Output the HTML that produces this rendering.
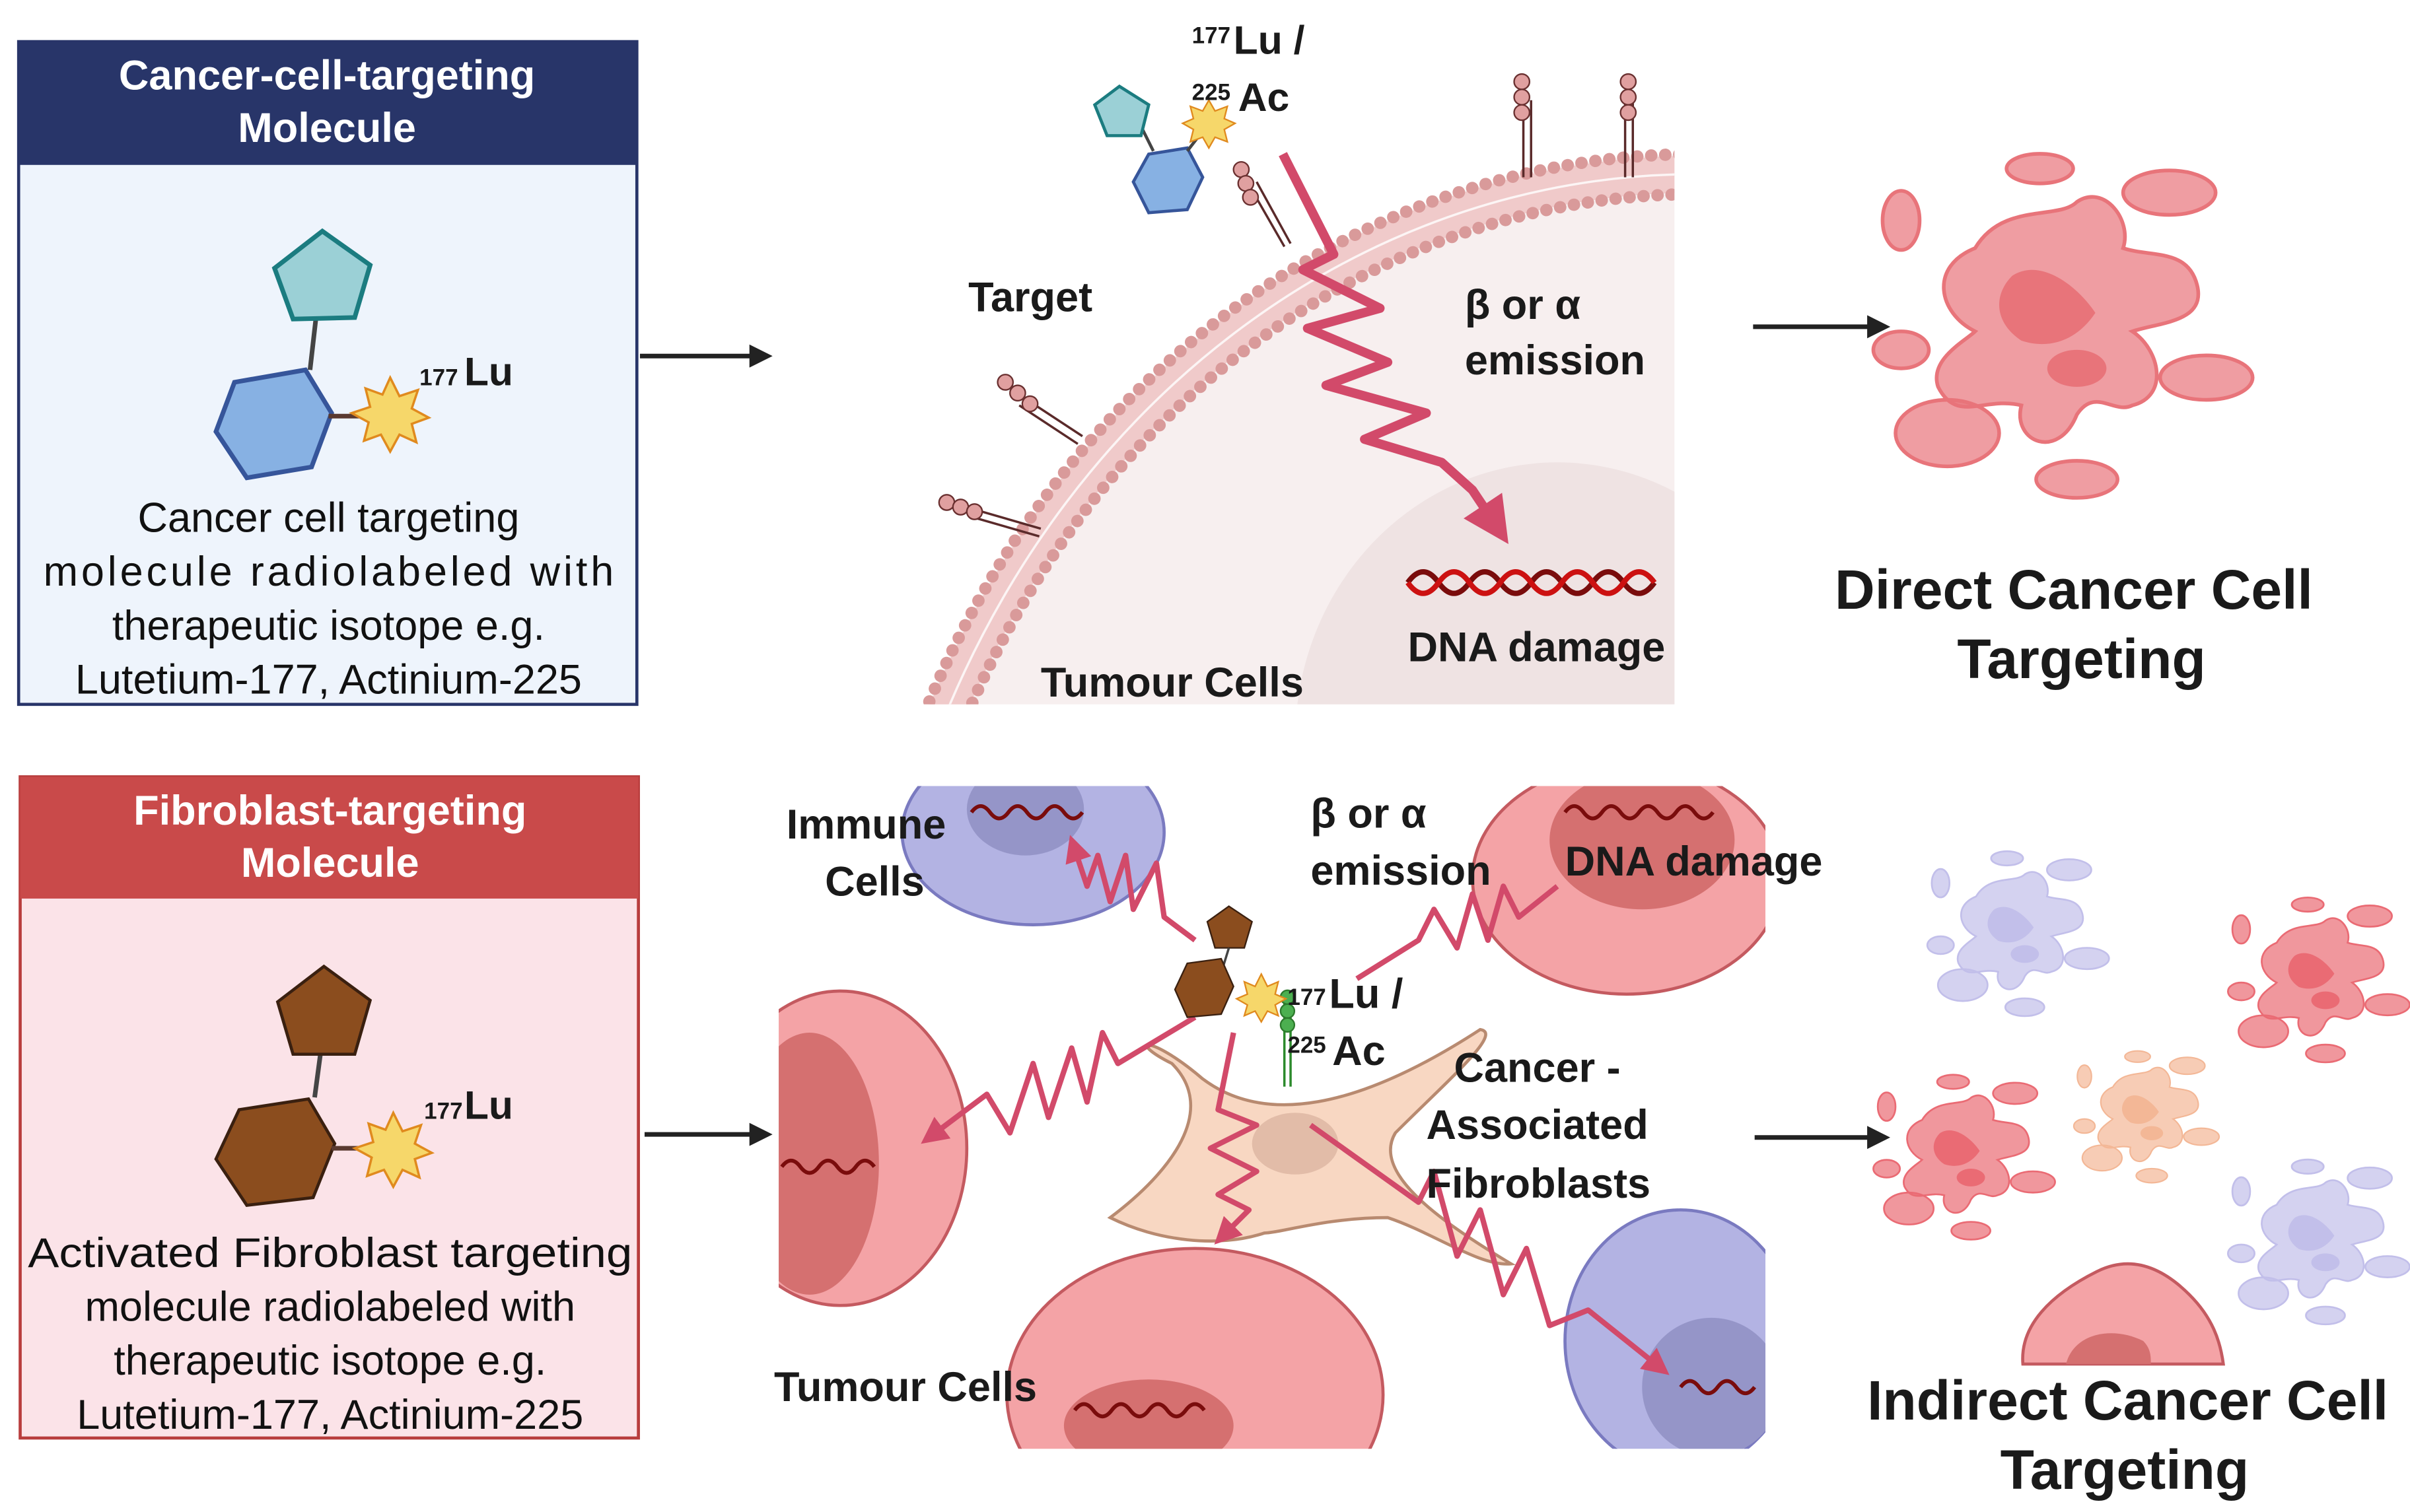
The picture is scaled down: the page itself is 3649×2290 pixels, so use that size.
<!DOCTYPE html>
<html><head><meta charset="utf-8"><style>
html,body{margin:0;padding:0;background:#fff;width:3649px;height:2290px;overflow:hidden;}
svg{display:block;position:absolute;left:0;top:0;}
text{font-family:"Liberation Sans",sans-serif;}
.b{font-weight:bold;fill:#1a1a1a;}
.h{font-weight:bold;fill:#fff;}
.n{fill:#111;}
</style></head><body>
<svg width="3649" height="2290" viewBox="0 0 1563 981" xmlns="http://www.w3.org/2000/svg">
<defs>
<marker id="ar" viewBox="0 0 10 10" refX="8" refY="5" markerWidth="5" markerHeight="5" orient="auto"><path d="M0,0L10,5L0,10z" fill="#222"/></marker>
<marker id="rr" viewBox="0 0 10 10" refX="8" refY="5" markerWidth="5" markerHeight="5" orient="auto"><path d="M0,0L10,5L0,10z" fill="#d24a6a"/></marker>
<symbol id="frag" viewBox="-100 -100 200 200" overflow="visible">
<g fill="currentColor" stroke="currentColor" stroke-width="2">
<path d="M-45,-45 C-30,-70 0,-60 10,-70 C25,-80 40,-60 35,-45 C50,-40 70,-45 75,-25 C80,-5 55,-5 40,0 C55,10 60,35 40,40 C30,45 20,30 10,45 C0,70 -25,60 -20,40 C-40,35 -55,50 -65,30 C-70,15 -50,5 -45,0 C-65,-10 -70,-35 -45,-45z" fill-opacity="0.7"/>
<ellipse cx="-60" cy="55" rx="28" ry="18" fill-opacity="0.7"/>
<ellipse cx="60" cy="-75" rx="25" ry="12" fill-opacity="0.7"/>
<ellipse cx="80" cy="25" rx="25" ry="12" fill-opacity="0.7"/>
<ellipse cx="-85" cy="10" rx="15" ry="10" fill-opacity="0.7"/>
<ellipse cx="10" cy="80" rx="22" ry="10" fill-opacity="0.7"/>
<ellipse cx="-10" cy="-88" rx="18" ry="8" fill-opacity="0.7"/>
<ellipse cx="-85" cy="-60" rx="10" ry="16" fill-opacity="0.7"/>
</g>
<path d="M-25,-30 C-10,-40 10,-25 20,-10 C10,5 -5,10 -20,5 C-35,-5 -35,-20 -25,-30z" fill="currentColor" fill-opacity="1"/>
<ellipse cx="10" cy="20" rx="16" ry="10" fill="currentColor"/>
</symbol>
<clipPath id="cp1"><rect x="598" y="95" width="488" height="362"/></clipPath>
<clipPath id="cp2"><rect x="505" y="510" width="640" height="430"/></clipPath>
</defs>

<!-- Top left box -->
<rect x="12" y="27" width="401" height="430" fill="#eef4fc" stroke="#283569" stroke-width="2"/>
<rect x="12" y="27" width="401" height="80" fill="#283569"/>
<text class="h" x="212" y="58" font-size="27" text-anchor="middle">Cancer-cell-targeting</text>
<text class="h" x="212" y="92" font-size="27" text-anchor="middle">Molecule</text>
<line x1="205" y1="205" x2="201" y2="240" stroke="#444" stroke-width="3"/>
<polygon points="209,150 240,172 230,206 190,207 178,174" fill="#9bd0d6" stroke="#1b7c80" stroke-width="3"/>
<polygon points="152,248 198,240 215,268 202,303 160,310 140,280" fill="#87b1e3" stroke="#36559a" stroke-width="3"/>
<line x1="213" y1="270" x2="233" y2="270" stroke="#5a3a30" stroke-width="3"/>
<polygon points="253,245 259,257 271,253 267,265 278,271 267,275 270,287 259,282 253,293 247,282 236,286 239,274 228,268 240,264 237,252 248,256" fill="#f6d76a" stroke="#e08a1e" stroke-width="1.5"/>
<text class="b" x="272" y="250" font-size="15">177</text><text class="b" x="301" y="250" font-size="26">Lu</text>
<g class="n" font-size="27" text-anchor="middle">
<text x="213" y="345">Cancer cell targeting</text>
<text x="213" y="380" textLength="370" lengthAdjust="spacing">molecule  radiolabeled  with</text>
<text x="213" y="415">therapeutic isotope e.g.</text>
<text x="213" y="450">Lutetium-177, Actinium-225</text>
</g>
<line x1="415" y1="231" x2="498" y2="231" stroke="#222" stroke-width="3" marker-end="url(#ar)"/>

<!-- Top middle membrane -->
<g clip-path="url(#cp1)">
<ellipse cx="1100" cy="720" rx="550" ry="620" fill="#f7efef"/>
<ellipse cx="1010" cy="480" rx="170" ry="180" fill="#efe3e3"/>
<ellipse cx="1100" cy="720" rx="537" ry="607" fill="none" stroke="#f0caca" stroke-width="24"/>
<ellipse cx="1100" cy="720" rx="550" ry="620" fill="none" stroke="#d99a9a" stroke-width="8" stroke-dasharray="0.1 9" stroke-linecap="round"/>
<ellipse cx="1100" cy="720" rx="524" ry="594" fill="none" stroke="#d99a9a" stroke-width="8" stroke-dasharray="0.1 9" stroke-linecap="round"/>
<ellipse cx="1100" cy="720" rx="537" ry="607" fill="none" stroke="#fff" stroke-width="1.5" opacity="0.8"/>
</g>
<g stroke="#5a2a2a" stroke-width="1.5" fill="none">
<path d="M988,65 L988,115 M993,65 L993,115"/><path d="M1054,65 L1054,115 M1059,65 L1059,115"/>
<path d="M810,120 L833,160 M815,118 L837,158"/>
<path d="M664,258 L702,283 M661,263 L699,288"/>
<path d="M630,330 L675,343 M629,335 L674,348"/>
</g>
<g fill="#e0a0a0" stroke="#6a3030" stroke-width="1">
<circle cx="987" cy="53" r="5"/><circle cx="987" cy="63" r="5"/><circle cx="987" cy="73" r="5"/>
<circle cx="1056" cy="53" r="5"/><circle cx="1056" cy="63" r="5"/><circle cx="1056" cy="73" r="5"/>
<circle cx="805" cy="110" r="5"/><circle cx="808" cy="119" r="5"/><circle cx="811" cy="128" r="5"/>
<circle cx="652" cy="248" r="5"/><circle cx="660" cy="255" r="5"/><circle cx="668" cy="262" r="5"/>
<circle cx="614" cy="326" r="5"/><circle cx="623" cy="329" r="5"/><circle cx="632" cy="332" r="5"/>
</g>
<line x1="740" y1="82" x2="748" y2="98" stroke="#444" stroke-width="2"/>
<polygon points="726,56 745,68 740,88 718,88 710,68" fill="#9bd0d6" stroke="#1b7c80" stroke-width="2"/>
<polygon points="745,100 770,96 780,115 770,136 745,138 735,118" fill="#87b1e3" stroke="#36559a" stroke-width="2"/>
<line x1="770" y1="98" x2="780" y2="85" stroke="#444" stroke-width="2"/>
<polygon points="784,65 788,72 796,69 794,77 801,80 794,84 796,92 788,89 784,96 780,89 772,92 774,84 767,80 774,77 772,69 780,72" fill="#f6d76a" stroke="#e08a1e" stroke-width="1"/>
<text class="b" x="773" y="28" font-size="15">177</text><text class="b" x="800" y="35" font-size="26">Lu /</text>
<text class="b" x="773" y="65" font-size="15">225</text><text class="b" x="803" y="72" font-size="26">Ac</text>
<path d="M832,100 L865,165 L845,175 L895,200 L848,213 L900,235 L860,250 L925,268 L885,285 L935,300 L955,318 L975,348" fill="none" stroke="#d24a6a" stroke-width="6" stroke-linejoin="round" marker-end="url(#rr)"/>
<g fill="none" stroke-width="3.5">
<path d="M913,378 q10,-14 20,0 t20,0 t20,0 t20,0 t20,0 t20,0 t20,0 t20,0" stroke="#7a0c0c"/>
<path d="M913,378 q10,14 20,0 t20,0 t20,0 t20,0 t20,0 t20,0 t20,0 t20,0" stroke="#c11"/>
</g>
<text class="b" x="628" y="202" font-size="27">Target</text>
<text class="b" x="950" y="207" font-size="27">β or α</text>
<text class="b" x="950" y="243" font-size="27">emission</text>
<text class="b" x="913" y="429" font-size="27">DNA damage</text>
<text class="b" x="675" y="452" font-size="27">Tumour Cells</text>

<line x1="1137" y1="212" x2="1223" y2="212" stroke="#222" stroke-width="3" marker-end="url(#ar)"/>
<use href="#frag" x="1215" y="95" width="240" height="240" color="#e8747a"/>
<text class="b" x="1345" y="395" font-size="36" text-anchor="middle">Direct Cancer Cell</text>
<text class="b" x="1350" y="440" font-size="36" text-anchor="middle">Targeting</text>

<!-- Bottom left box -->
<rect x="13" y="504" width="401" height="429" fill="#fbe3e8" stroke="#b83d3d" stroke-width="2"/>
<rect x="13" y="504" width="401" height="79" fill="#c94a4a"/>
<text class="h" x="214" y="535" font-size="27" text-anchor="middle">Fibroblast-targeting</text>
<text class="h" x="214" y="569" font-size="27" text-anchor="middle">Molecule</text>
<line x1="208" y1="682" x2="204" y2="712" stroke="#444" stroke-width="3"/>
<polygon points="210,627 240,649 230,684 190,684 180,650" fill="#8b4d1e" stroke="#3a2010" stroke-width="2"/>
<polygon points="155,720 200,713 217,742 203,777 160,782 140,752" fill="#8b4d1e" stroke="#3a2010" stroke-width="2"/>
<line x1="215" y1="745" x2="235" y2="745" stroke="#5a3a30" stroke-width="3"/>
<polygon points="255,722 261,734 273,730 269,742 280,748 269,752 272,764 261,759 255,770 249,759 238,763 241,751 230,745 242,741 239,729 250,733" fill="#f6d76a" stroke="#e08a1e" stroke-width="1.5"/>
<text class="b" x="275" y="726" font-size="15">177</text><text class="b" x="301" y="726" font-size="26">Lu</text>
<g class="n" font-size="27" text-anchor="middle">
<text x="214" y="822" textLength="392" lengthAdjust="spacingAndGlyphs">Activated Fibroblast targeting</text>
<text x="214" y="857">molecule  radiolabeled with</text>
<text x="214" y="892">therapeutic isotope e.g.</text>
<text x="214" y="927">Lutetium-177, Actinium-225</text>
</g>
<line x1="418" y1="736" x2="498" y2="736" stroke="#222" stroke-width="3" marker-end="url(#ar)"/>

<!-- Bottom middle -->
<g clip-path="url(#cp2)">
<g fill="#b3b3e3" stroke="#7a7ac0" stroke-width="2">
<ellipse cx="670" cy="540" rx="85" ry="60"/>
<ellipse cx="1090" cy="870" rx="75" ry="85"/>
</g>
<ellipse cx="665" cy="525" rx="38" ry="30" fill="#9595c8"/>
<ellipse cx="1110" cy="900" rx="45" ry="45" fill="#9595c8"/>
<g fill="#f4a3a6" stroke="#c45a60" stroke-width="2">
<ellipse cx="1055" cy="570" rx="100" ry="75"/>
<ellipse cx="545" cy="745" rx="82" ry="102"/>
<ellipse cx="775" cy="905" rx="122" ry="95"/>
</g>
<ellipse cx="1065" cy="545" rx="60" ry="45" fill="#d57070"/>
<ellipse cx="525" cy="755" rx="45" ry="85" fill="#d57070"/>
<ellipse cx="745" cy="925" rx="55" ry="30" fill="#d57070"/>
</g>
<path d="M720,790 C760,760 790,720 760,690 C730,675 745,670 780,700 C820,730 880,720 960,668 C975,670 940,700 905,735 C890,760 930,790 980,820 C960,822 930,800 900,790 C860,790 830,800 820,800 C790,810 750,805 720,790z" fill="#f8d7c2" stroke="#b88a70" stroke-width="2"/>
<ellipse cx="840" cy="742" rx="28" ry="20" fill="#e2bca8"/>
<g fill="none" stroke="#d24a6a" stroke-width="3.5" stroke-linejoin="round">
<path d="M775,610 L755,595 L750,560 L735,590 L730,555 L720,585 L712,555 L705,575 L695,545" marker-end="url(#rr)"/>
<path d="M880,635 L920,610 L930,590 L945,615 L955,580 L965,610 L975,575 L985,595 L1010,575"/>
<path d="M775,660 L725,690 L715,670 L705,715 L695,680 L680,725 L670,690 L655,735 L640,710 L600,740" marker-end="url(#rr)"/>
<path d="M800,670 L790,720 L815,730 L785,745 L815,760 L790,775 L810,785 L790,805" marker-end="url(#rr)"/>
<path d="M850,730 L920,780 L930,760 L945,815 L960,785 L975,840 L990,810 L1005,860 L1030,850 L1080,890" marker-end="url(#rr)"/>
</g>
<g stroke="#2c8a2c" stroke-width="1.5"><line x1="833" y1="650" x2="833" y2="705"/><line x1="837" y1="650" x2="837" y2="705"/></g>
<g fill="#4caf50" stroke="#2c7a2c"><circle cx="835" cy="647" r="4.5"/><circle cx="835" cy="656" r="4.5"/><circle cx="835" cy="665" r="4.5"/></g>
<polygon points="797,588 812,598 807,615 788,615 783,598" fill="#8b4d1e" stroke="#3a2010"/>
<line x1="797" y1="615" x2="793" y2="628" stroke="#444" stroke-width="1.5"/>
<polygon points="770,625 792,622 800,640 792,658 770,660 762,642" fill="#8b4d1e" stroke="#3a2010"/>
<polygon points="818,632 822,640 829,637 827,645 834,648 827,652 829,659 822,656 818,663 814,656 807,659 809,652 802,648 809,645 807,637 814,640" fill="#f6d76a" stroke="#e08a1e"/>
<g fill="none" stroke-width="2.5">
<path d="M630,527 q6,-8 12,0 t12,0 t12,0 t12,0 t12,0 t12,0" stroke="#7a0c0c"/>
<path d="M1015,527 q6,-8 12,0 t12,0 t12,0 t12,0 t12,0 t12,0 t12,0 t12,0" stroke="#7a0c0c"/>
<path d="M507,757 q6,-8 12,0 t12,0 t12,0 t12,0 t12,0" stroke="#7a0c0c"/>
<path d="M697,915 q6,-8 12,0 t12,0 t12,0 t12,0 t12,0 t12,0 t12,0" stroke="#7a0c0c"/>
<path d="M1090,900 q6,-8 12,0 t12,0 t12,0 t12,0" stroke="#7a0c0c"/>
</g>
<g class="b" font-size="27">
<text x="510" y="544">Immune</text>
<text x="535" y="581">Cells</text>
<text x="850" y="537">β or α</text>
<text x="850" y="574">emission</text>
<text x="1015" y="568">DNA damage</text>
<text x="835" y="652" font-size="15">177</text><text x="862" y="654">Lu /</text>
<text x="835" y="683" font-size="15">225</text><text x="864" y="691">Ac</text>
<text x="943" y="702">Cancer -</text>
<text x="925" y="739">Associated</text>
<text x="925" y="777">Fibroblasts</text>
<text x="502" y="909">Tumour Cells</text>
</g>
<line x1="1138" y1="738" x2="1223" y2="738" stroke="#222" stroke-width="3" marker-end="url(#ar)"/>

<!-- Bottom right blobs -->
<use href="#frag" x="1250" y="550" width="115" height="115" color="#c2bfea"/>
<use href="#frag" x="1445" y="580" width="115" height="115" color="#ea6b74"/>
<use href="#frag" x="1215" y="695" width="115" height="115" color="#ea6b74"/>
<use href="#frag" x="1345" y="680" width="92" height="92" color="#f3b796"/>
<use href="#frag" x="1445" y="750" width="115" height="115" color="#c2bfea"/>
<path d="M1312,885 C1310,860 1330,840 1360,825 C1380,815 1400,820 1420,840 C1435,855 1440,870 1442,885z" fill="#f4a3a6" stroke="#c45a60" stroke-width="2"/>
<path d="M1340,885 C1345,865 1370,860 1390,870 C1395,875 1395,880 1395,885z" fill="#d57070"/>
<text class="b" x="1380" y="921" font-size="36" text-anchor="middle">Indirect Cancer Cell</text>
<text class="b" x="1378" y="966" font-size="36" text-anchor="middle">Targeting</text>
</svg>
</body></html>
